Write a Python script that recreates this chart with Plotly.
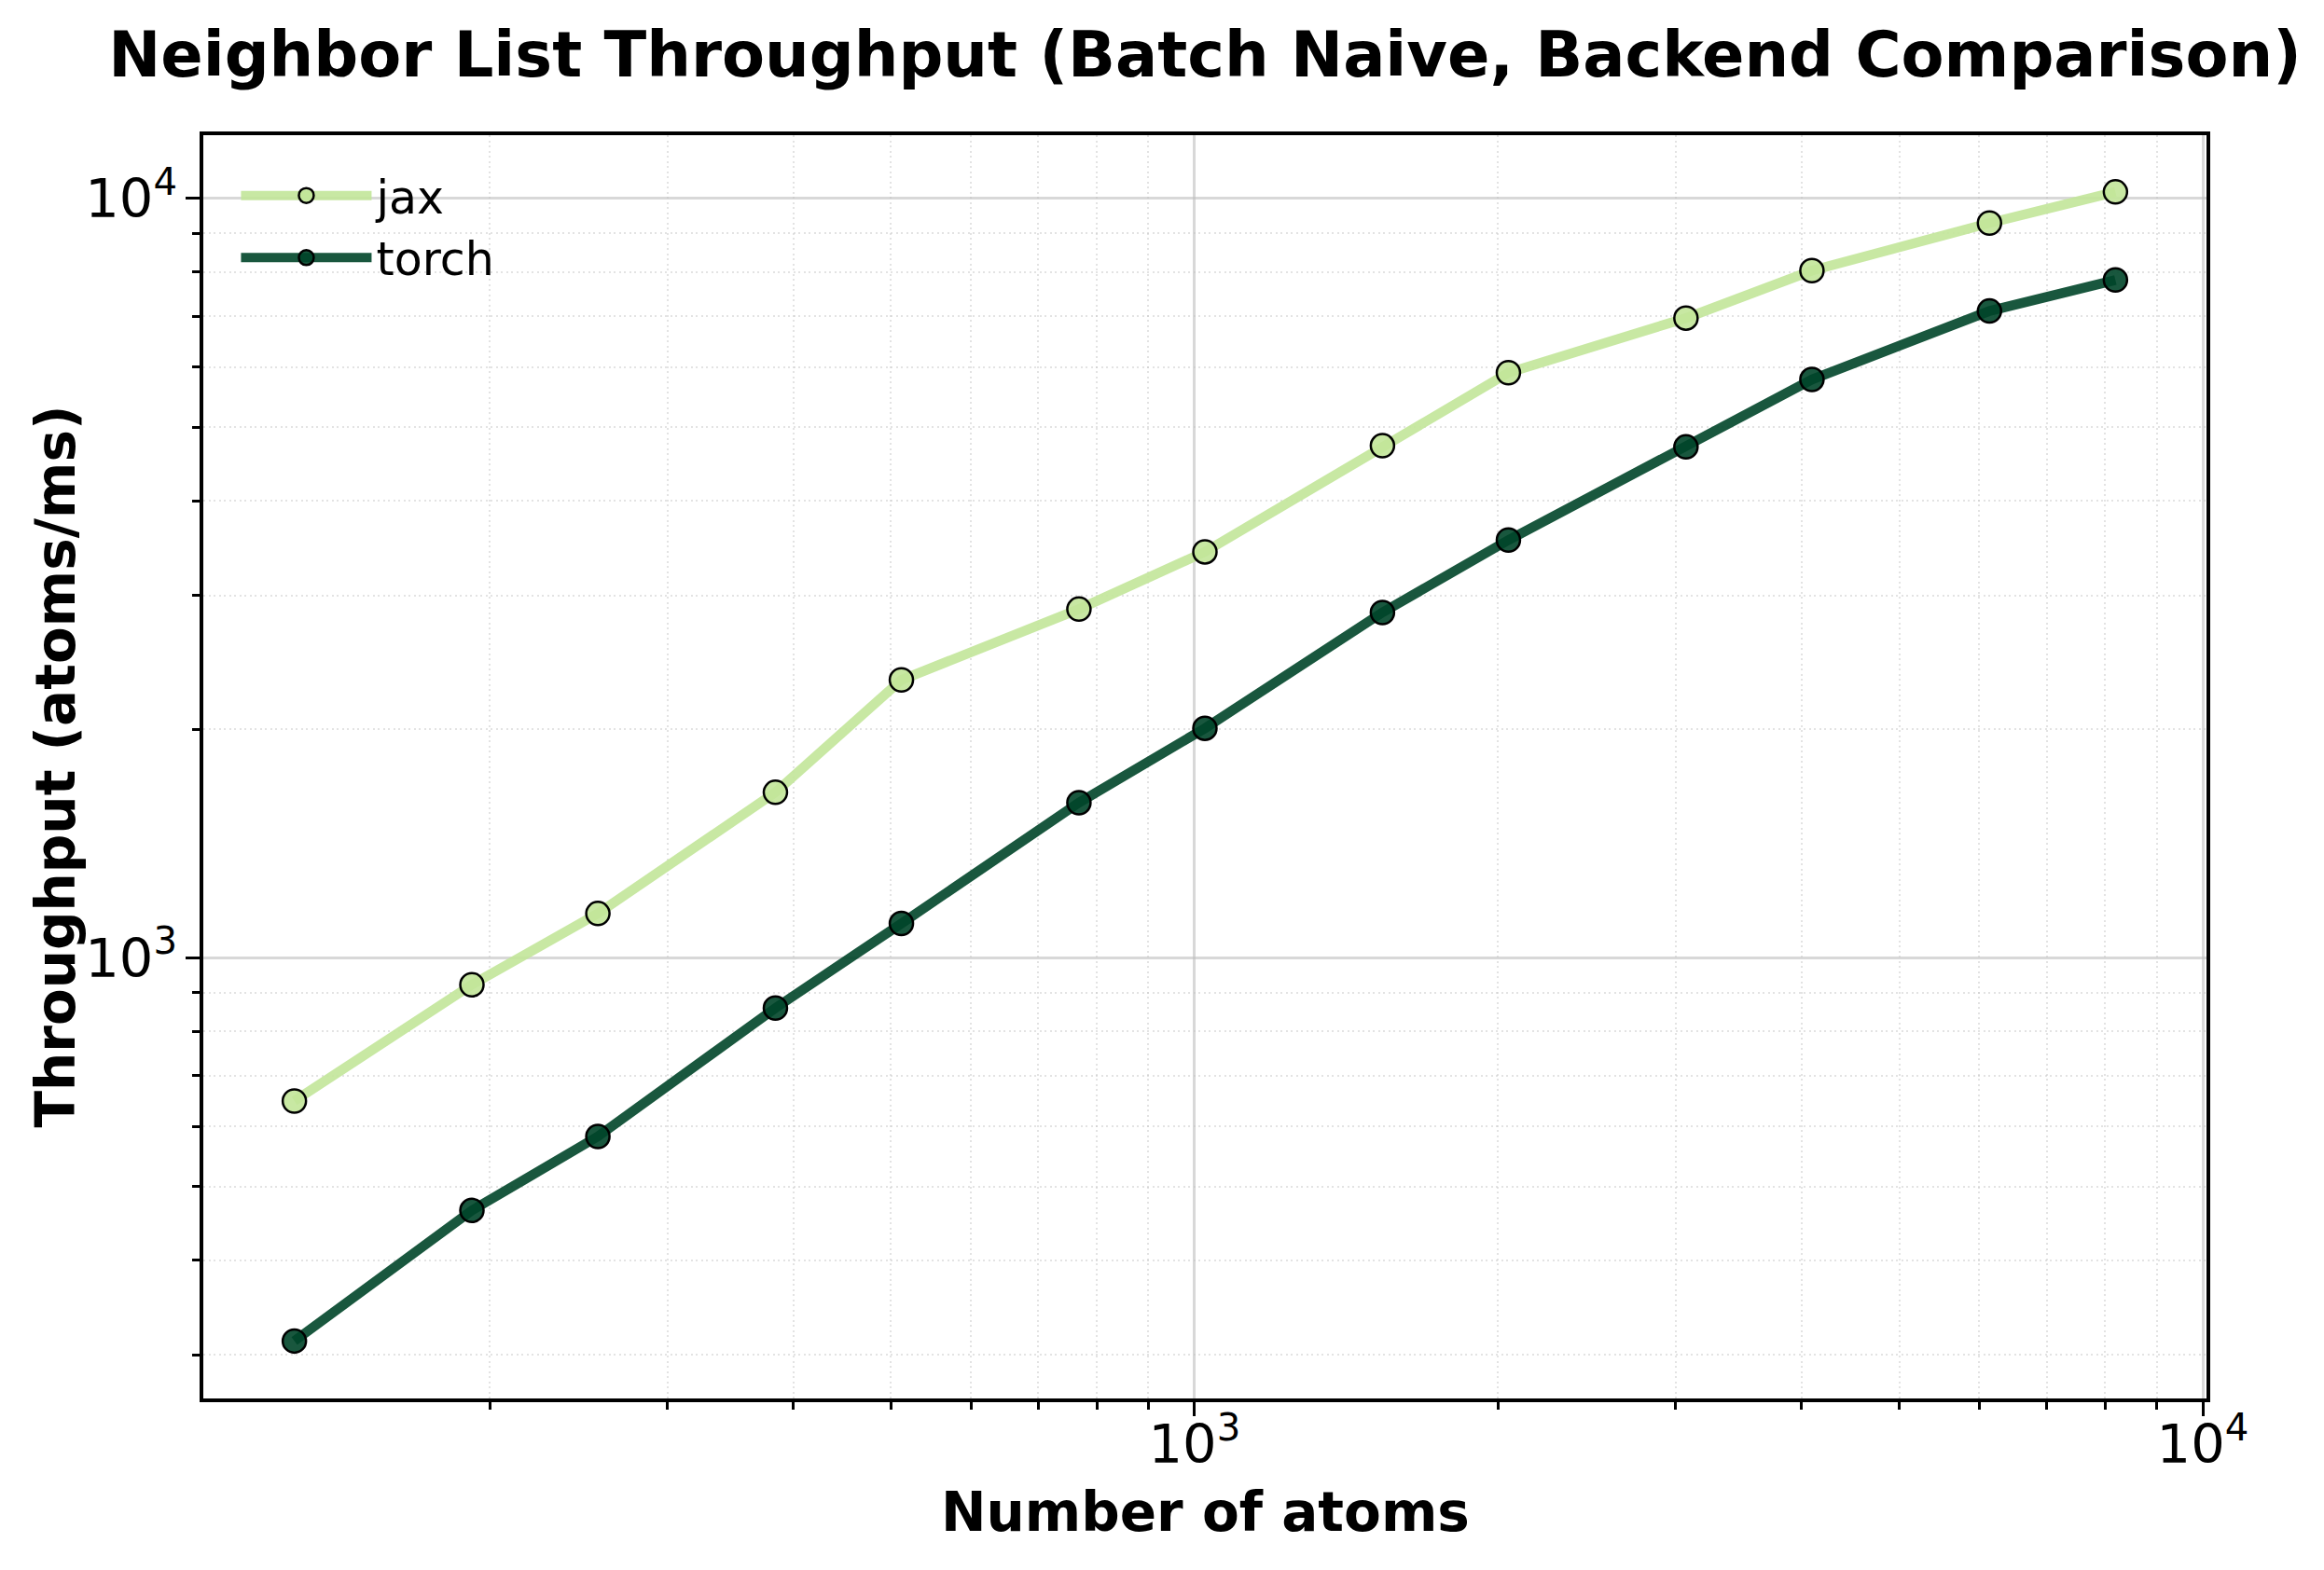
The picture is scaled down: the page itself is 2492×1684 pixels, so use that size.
import plotly.graph_objects as go

# values
n_atoms = [128, 192, 256, 384, 512, 768, 1024, 1536, 2048, 3072, 4096, 6144, 8192]
jax_throughput = [648, 922, 1144, 1652, 2323, 2879, 3425, 4725, 5895, 6958, 8035, 9280, 10200]
torch_throughput = [313, 465, 582, 859, 1110, 1601, 2006, 2850, 3550, 4708, 5775, 7108, 7810]

backends = ["jax", "torch"]
colors = {"jax": "rgba(194,230,153,0.9)", "torch": "rgba(0,69,41,0.9)"}
series = {"jax": jax_throughput, "torch": torch_throughput}

FONT = "DejaVu Sans"

fig = go.Figure()
for name in backends:
    fig.add_scatter(
        x=n_atoms, y=series[name], name=name, mode="lines+markers",
        line=dict(color=colors[name], width=10.5),
        marker=dict(size=25, color=colors[name], line=dict(color="black", width=2.5)),
    )

axis_common = dict(
    type="log", dtick=1, exponentformat="power", showexponent="all",
    showline=True, linecolor="black", linewidth=3.5, mirror=True,
    ticks="outside", ticklen=15, tickwidth=3.3, tickcolor="black",
    tickfont=dict(family=FONT, size=46, color="black"),
    showgrid=True, gridcolor="rgba(190,190,190,0.6)", gridwidth=2.7,
    zeroline=False,
    minor=dict(dtick="D1", ticks="outside", ticklen=8, tickwidth=2.5, tickcolor="black",
               showgrid=True, gridcolor="rgba(200,200,200,0.5)", gridwidth=2,
               griddash="2px,3.5px"),
)

fig.update_xaxes(range=[2.0169, 4.0037], ticklabelstandoff=-16, **axis_common)
fig.update_yaxes(range=[2.4199, 4.0833], **axis_common)

# axis titles as annotations so they sit where matplotlib put them
fig.add_annotation(text="<b>Number of atoms</b>", xref="paper", yref="paper",
                   x=0.5, y=-0.090, xanchor="center", yanchor="middle", showarrow=False,
                   font=dict(family=FONT, size=58, color="black"))
fig.add_annotation(text="<b>Throughput (atoms/ms)</b>", xref="paper", yref="paper",
                   x=-0.074, y=0.5, xanchor="center", yanchor="middle", showarrow=False,
                   textangle=-90, font=dict(family=FONT, size=58, color="black"))

fig.update_layout(
    width=2492, height=1684,
    margin=dict(l=218, r=126, t=145, b=184),
    paper_bgcolor="white", plot_bgcolor="white",
    font=dict(family=FONT, color="black"),
    title=dict(text="<b>Neighbor List Throughput (Batch Naive, Backend Comparison)</b>",
               font=dict(family=FONT, size=67, color="black"),
               x=0.5, xref="paper", xanchor="center",
               y=1 - 59 / 1684, yref="container", yanchor="middle"),
    legend=dict(x=0.0165, y=0.9806, xanchor="left", yanchor="top",
                bgcolor="rgba(255,255,255,0)", borderwidth=0,
                font=dict(family=FONT, size=49, color="black"),
                itemwidth=140),
    showlegend=True,
)

fig.write_html("out.html", config={"displayModeBar": False},
               post_script="document.body.style.margin='0px';")
